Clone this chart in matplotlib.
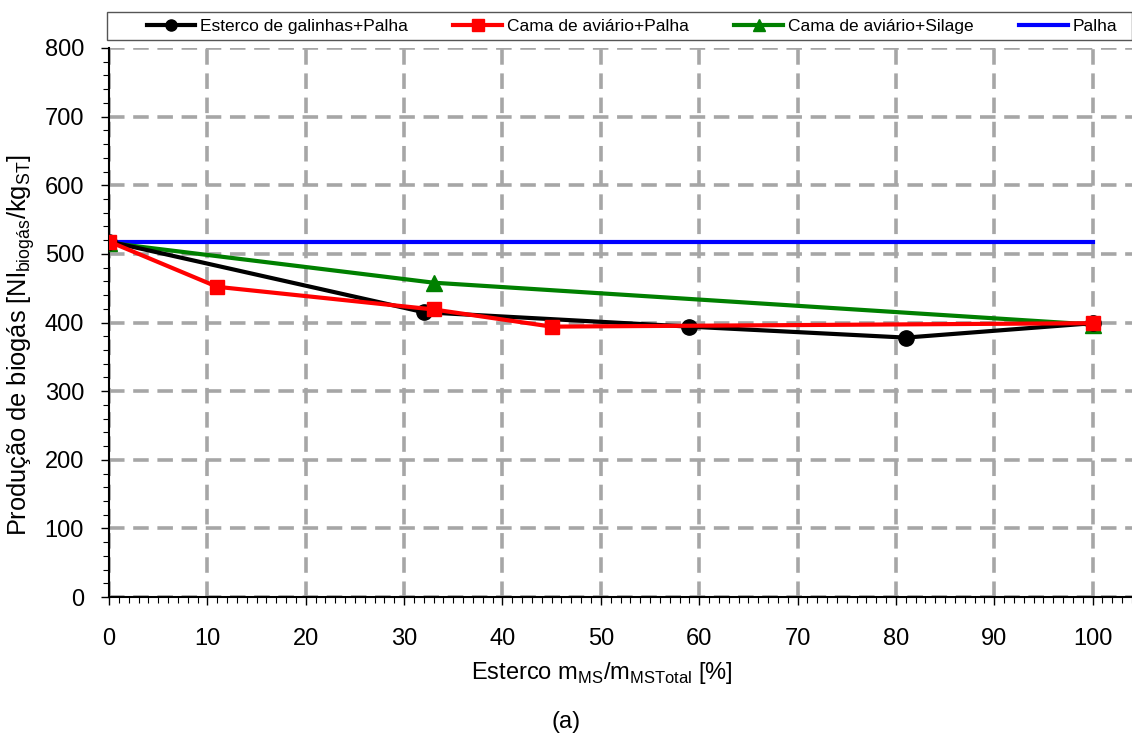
import matplotlib.pyplot as plt
from matplotlib.ticker import MultipleLocator
from matplotlib.patches import Rectangle

plt.rcParams['font.family'] = ['Liberation Sans', 'DejaVu Sans']

# data
x_galinhas = [0, 32, 59, 81, 100]
y_galinhas = [518, 415, 394, 378, 399]

x_cama_palha = [0, 11, 33, 45, 100]
y_cama_palha = [518, 452, 419, 394, 399]

x_cama_silage = [0, 33, 100]
y_cama_silage = [516, 458, 397]

x_palha = [0, 100]
y_palha = [518, 518]

fig = plt.figure(figsize=(11.32, 7.38), dpi=100)
ax = fig.add_axes([0.0963, 0.191, 0.9037, 0.744])

ax.plot(x_galinhas, y_galinhas, color='black', lw=3, marker='o', ms=11,
        label='Esterco de galinhas+Palha', zorder=4)
ax.plot(x_cama_palha, y_cama_palha, color='red', lw=3, marker='s', ms=10,
        label='Cama de aviário+Palha', zorder=5)
ax.plot(x_cama_silage, y_cama_silage, color='green', lw=3, marker='^', ms=11,
        label='Cama de aviário+Silage', zorder=3)
ax.plot(x_palha, y_palha, color='blue', lw=3, label='Palha', zorder=2)

ax.set_xlim(0, 104)
ax.set_ylim(0, 800)
ax.xaxis.set_major_locator(MultipleLocator(10))
ax.xaxis.set_minor_locator(MultipleLocator(1))
ax.yaxis.set_major_locator(MultipleLocator(100))
ax.yaxis.set_minor_locator(MultipleLocator(20))
ax.grid(True, which='major', color='#a6a6a6', lw=2.6, ls=(0, (4.3, 2.4)))
ax.set_axisbelow(True)

for s in ['top', 'right']:
    ax.spines[s].set_visible(False)
ax.spines['left'].set_linewidth(1.5)
ax.spines['bottom'].set_linewidth(1.5)

ax.tick_params(axis='x', which='major', length=6, width=1, pad=16, labelsize=17)
ax.tick_params(axis='x', which='minor', length=4, width=0.8)
ax.tick_params(axis='y', which='major', length=6, width=1, pad=12, labelsize=17)
ax.tick_params(axis='y', which='minor', length=4, width=0.8)

ax.set_xlabel('Esterco m$_{\\mathregular{MS}}$/m$_{\\mathregular{MSTotal}}$ [%]',
              fontsize=17)
ax.xaxis.set_label_coords(0.482, -0.115)
ax.set_ylabel('Produção de biogás [Nl$_{\\mathregular{biogás}}$/kg$_{\\mathregular{ST}}$]',
              fontsize=18.3)
ax.yaxis.set_label_coords(-0.070, 0.459)

fig.text(0.5, 0.0217, '(a)', ha='center', va='center', fontsize=17)

# legend frame spanning the top strip
fig.patches.append(Rectangle((107 / 1132, 1 - 40 / 738), 1025 / 1132, 28 / 738,
                             transform=fig.transFigure, fill=False,
                             edgecolor='#555555', lw=1))
leg = fig.legend(*ax.get_legend_handles_labels(), loc='center',
                 bbox_to_anchor=(632 / 1132, 1 - 26 / 738), ncol=4, fontsize=12.5,
                 frameon=False, handlelength=2.8, handletextpad=0.3,
                 columnspacing=2.6, borderpad=0)
for h in leg.legend_handles:
    h.set_markersize(8)

fig.savefig('out.png', dpi=100)
